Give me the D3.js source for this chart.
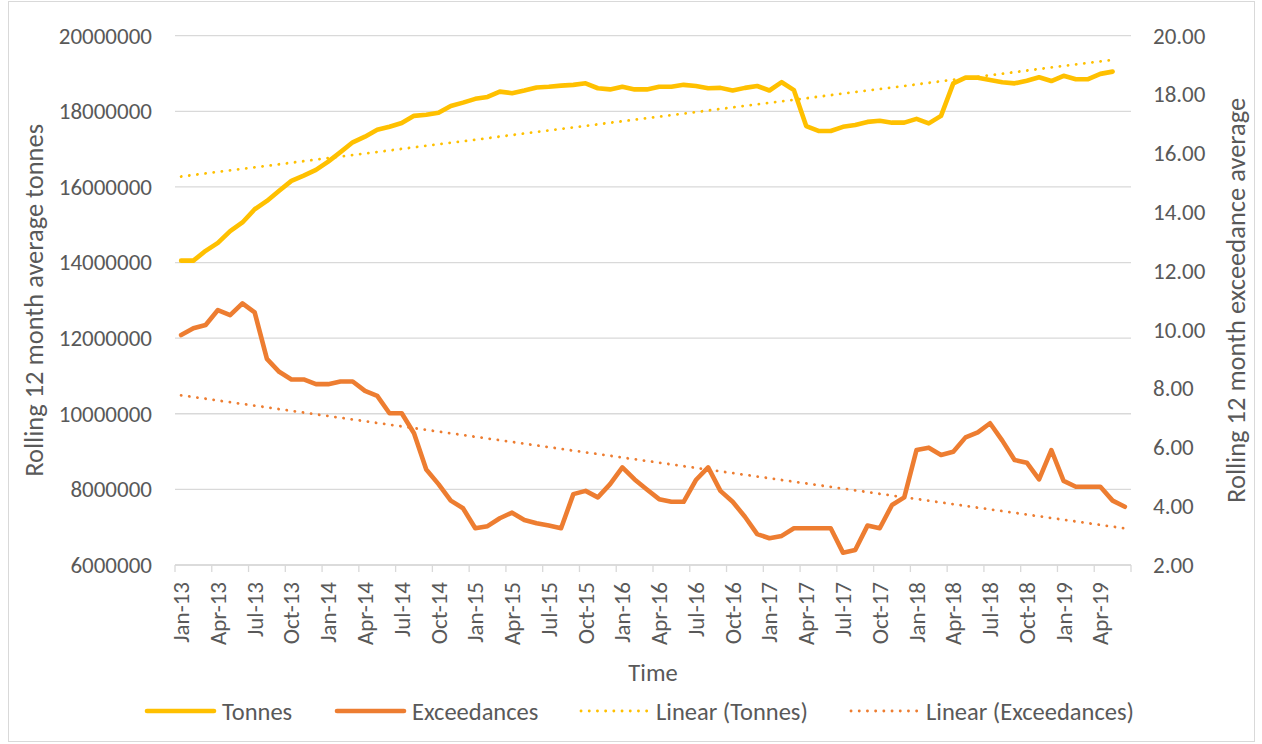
<!DOCTYPE html>
<html>
<head>
<meta charset="utf-8">
<script src="https://cdn.jsdelivr.net/npm/d3@7"></script>
<style>
  body { margin: 0; background: #fff; }
  svg { display: block; }
  text { font-family: Carlito, Calibri, Lato, sans-serif; fill: #595959; }
</style>
</head>
<body>
<div id="chart"></div>
<script>
// months on the category axis, Jan-13 .. Jun-19
let months = d3.timeMonths(new Date(2013, 0, 1), new Date(2019, 6, 1));
let fmtMonth = d3.timeFormat("%b-%y");
let categories = months.map(fmtMonth);

// rolling 12 month average tonnes (left axis)
let tonnes = [
    14050000, 14050000, 14310000, 14520000, 14830000, 15060000, 15410000, 15630000,
    15900000, 16160000, 16300000, 16450000, 16670000, 16920000, 17180000, 17330000,
    17510000, 17590000, 17690000, 17880000, 17910000, 17960000, 18140000, 18230000,
    18330000, 18380000, 18520000, 18480000, 18550000, 18630000, 18650000, 18680000,
    18700000, 18740000, 18610000, 18580000, 18650000, 18580000, 18580000, 18650000,
    18650000, 18700000, 18670000, 18610000, 18620000, 18550000, 18620000, 18670000,
    18550000, 18770000, 18560000, 17610000, 17480000, 17480000, 17590000, 17640000,
    17720000, 17750000, 17700000, 17700000, 17800000, 17680000, 17880000, 18740000,
    18890000, 18890000, 18830000, 18770000, 18740000, 18810000, 18900000, 18800000,
    18940000, 18850000, 18850000, 18990000, 19050000
];

// rolling 12 month exceedance average (right axis)
let exceedances = [
    9.82, 10.05, 10.16, 10.67, 10.50, 10.90, 10.59, 9.01, 8.57, 8.31, 8.31, 8.15,
    8.15, 8.24, 8.24, 7.92, 7.75, 7.16, 7.16, 6.48, 5.25, 4.75, 4.19, 3.93,
    3.25, 3.32, 3.59, 3.78, 3.53, 3.42, 3.34, 3.25, 4.41, 4.52, 4.30, 4.75,
    5.32, 4.91, 4.57, 4.24, 4.15, 4.15, 4.89, 5.32, 4.52, 4.15, 3.64, 3.05,
    2.91, 2.99, 3.25, 3.25, 3.25, 3.25, 2.42, 2.51, 3.34, 3.25, 4.04, 4.30,
    5.91, 5.99, 5.74, 5.85, 6.34, 6.51, 6.82, 6.23, 5.57, 5.48, 4.91, 5.91,
    4.86, 4.66, 4.66, 4.66, 4.19, 3.98
];

let leftTicks = [6000000, 8000000, 10000000, 12000000, 14000000, 16000000, 18000000, 20000000];
let rightTicks = [2, 4, 6, 8, 10, 12, 14, 16, 18, 20];
let legendItems = [
    { name: "Tonnes", color: "#FFC000", dotted: false },
    { name: "Exceedances", color: "#ED7D31", dotted: false },
    { name: "Linear (Tonnes)", color: "#FFC000", dotted: true },
    { name: "Linear (Exceedances)", color: "#ED7D31", dotted: true }
];
let legendX = [145, 335, 579, 849];

let W = 1262, H = 744;
let margin = { top: 35.7, right: 131, bottom: 179, left: 175 };
let width = W - margin.left - margin.right;
let height = H - margin.top - margin.bottom;

let svg = d3.select("#chart").append("svg")
    .attr("width", W)
    .attr("height", H);

// chart border
svg.append("rect")
    .attr("x", 8.5).attr("y", 1.5)
    .attr("width", 1246).attr("height", 740)
    .attr("fill", "none")
    .attr("stroke", "#d9d9d9");

let g = svg.append("g")
    .attr("transform", `translate(${margin.left},${margin.top})`);

let x = d3.scaleBand().domain(categories).range([0, width]).padding(0);
let yL = d3.scaleLinear().domain([6000000, 20000000]).range([height, 0]);
let yR = d3.scaleLinear().domain([2, 20]).range([height, 0]);
let cx = d => x(d) + x.bandwidth() / 2;

// gridlines
g.append("g")
    .selectAll("line")
    .data(leftTicks)
    .enter().append("line")
    .attr("x1", 0).attr("x2", width)
    .attr("y1", d => yL(d)).attr("y2", d => yL(d))
    .attr("stroke", "#d9d9d9")
    .attr("stroke-width", 1.3);

// left axis
let axL = g.append("g")
    .call(d3.axisLeft(yL).tickValues(leftTicks).tickSize(0).tickPadding(23).tickFormat(d3.format("d")));
axL.select(".domain").remove();
axL.selectAll("text").style("font-size", "23px").attr("fill", "#595959");

// right axis
let axR = g.append("g")
    .attr("transform", `translate(${width},0)`)
    .call(d3.axisRight(yR).tickValues(rightTicks).tickSize(0).tickPadding(22).tickFormat(d3.format(".2f")));
axR.select(".domain").remove();
axR.selectAll("text").style("font-size", "23px").attr("fill", "#595959");

// bottom axis: line, tick marks between every third category, rotated labels
g.append("line")
    .attr("x1", 0).attr("x2", width)
    .attr("y1", height).attr("y2", height)
    .attr("stroke", "#d9d9d9").attr("stroke-width", 1.3);

let tickCats = categories.filter((c, i) => i % 3 === 0);
g.append("g")
    .selectAll("line")
    .data(tickCats.concat([null]))
    .enter().append("line")
    .attr("x1", d => d === null ? width : x(d))
    .attr("x2", d => d === null ? width : x(d))
    .attr("y1", height).attr("y2", height + 7)
    .attr("stroke", "#d9d9d9").attr("stroke-width", 1.3);

g.append("g")
    .selectAll("text")
    .data(tickCats)
    .enter().append("text")
    .attr("transform", d => `translate(${cx(d)},${height + 17}) rotate(-90)`)
    .attr("text-anchor", "end")
    .attr("dy", "0.35em")
    .style("font-size", "23px")
    .text(d => d);

// least squares trend over a series' own points
function trend(vals) {
    let n = vals.length;
    let mx = d3.mean(vals, (v, i) => i), my = d3.mean(vals);
    let sxy = d3.sum(vals, (v, i) => (i - mx) * (v - my));
    let sxx = d3.sum(vals, (v, i) => (i - mx) * (i - mx));
    let b = sxy / sxx, a = my - b * mx;
    return [[0, a], [n - 1, a + b * (n - 1)]];
}

let lineL = d3.line().x(d => cx(categories[d[0]])).y(d => yL(d[1]));
let lineR = d3.line().x(d => cx(categories[d[0]])).y(d => yR(d[1]));

// trendlines
g.append("path")
    .datum(trend(tonnes))
    .attr("d", lineL)
    .attr("fill", "none").attr("stroke", "#FFC000")
    .attr("stroke-width", 2.8).attr("stroke-linecap", "round")
    .attr("stroke-dasharray", "0.1 8.1");

g.append("path")
    .datum(trend(exceedances))
    .attr("d", lineR)
    .attr("fill", "none").attr("stroke", "#ED7D31")
    .attr("stroke-width", 2.8).attr("stroke-linecap", "round")
    .attr("stroke-dasharray", "0.1 8.1");

// data lines
g.append("path")
    .datum(tonnes.map((v, i) => [i, v]))
    .attr("d", lineL)
    .attr("fill", "none").attr("stroke", "#FFC000")
    .attr("stroke-width", 4.6).attr("stroke-linejoin", "round").attr("stroke-linecap", "round");

g.append("path")
    .datum(exceedances.map((v, i) => [i, v]))
    .attr("d", lineR)
    .attr("fill", "none").attr("stroke", "#ED7D31")
    .attr("stroke-width", 4.6).attr("stroke-linejoin", "round").attr("stroke-linecap", "round");

// axis titles
svg.append("text")
    .attr("transform", `translate(34,${margin.top + height / 2}) rotate(-90)`)
    .attr("text-anchor", "middle")
    .attr("dy", "0.35em")
    .style("font-size", "26.5px")
    .text("Rolling 12 month average tonnes");

svg.append("text")
    .attr("transform", `translate(1236,${margin.top + height / 2}) rotate(-90)`)
    .attr("text-anchor", "middle")
    .attr("dy", "0.35em")
    .style("font-size", "26.5px")
    .text("Rolling 12 month exceedance average");

svg.append("text")
    .attr("x", margin.left + width / 2)
    .attr("y", 681)
    .attr("text-anchor", "middle")
    .style("font-size", "24.5px")
    .text("Time");

// legend
let legend = svg.append("g").attr("transform", "translate(0,711)");
legendItems.forEach((item, i) => {
    let it = legend.append("g").attr("transform", `translate(${legendX[i]},0)`);
    it.append("line")
        .attr("x1", 2).attr("x2", 69).attr("y1", 0).attr("y2", 0)
        .attr("stroke", item.color)
        .attr("stroke-width", item.dotted ? 2.8 : 4.6)
        .attr("stroke-linecap", "round")
        .attr("stroke-dasharray", item.dotted ? "0.1 8.1" : null);
    it.append("text")
        .attr("x", 77).attr("dy", "0.35em")
        .style("font-size", "24.5px")
        .text(item.name);
});
</script>
</body>
</html>
